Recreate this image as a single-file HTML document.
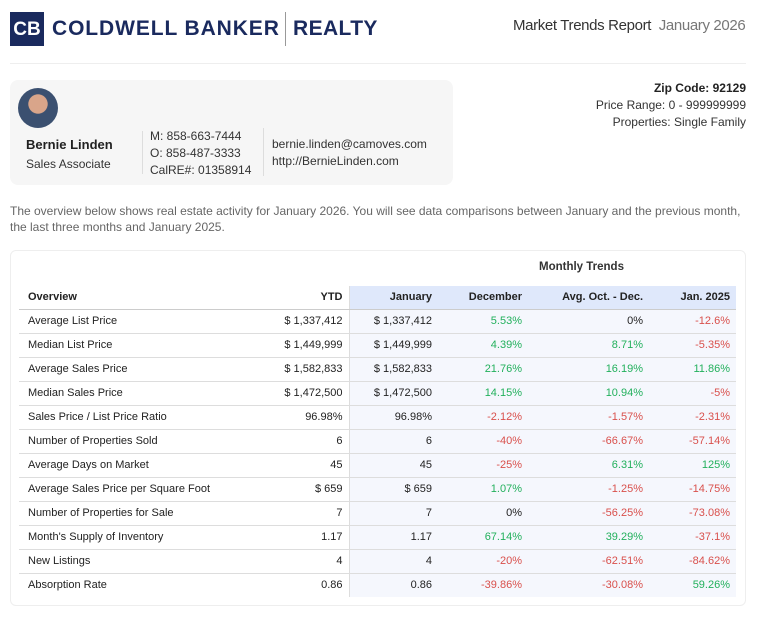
<!DOCTYPE html>
<html><head><meta charset="utf-8"><style>
*{margin:0;padding:0;box-sizing:border-box}
body{width:759px;height:623px;background:#fff;font-family:"Liberation Sans",sans-serif;color:#222;position:relative;overflow:hidden}
.a{position:absolute;white-space:nowrap}
table{border-collapse:collapse;position:absolute;left:19px;top:286px;font-size:11px}
td{height:24px;padding:0 6px;border-bottom:1px solid #ddd;text-align:right}
td:first-child{text-align:left;padding-left:9px}
tr.h td{height:23px;font-weight:bold;font-size:11px;border-bottom:1px solid #ccc;color:#222}
tr.h td.b{background:#dfe8fb}
td.c{background:#f5f7fd}
td.y{border-right:1px solid #ddd}
.g{color:#22b05c}.r{color:#d9504c}
</style></head><body>
<div class="a" style="left:10px;top:12px;width:34px;height:34px;background:#1a2a5e;color:#fff;font-weight:bold;font-size:19px;text-align:center;line-height:34px;border:1px solid #1a2a5e">CB</div>
<div class="a" style="left:52px;top:17px;font-size:21px;font-weight:bold;color:#1a2a5e;letter-spacing:0.9px">COLDWELL BANKER</div>
<div class="a" style="left:285px;top:12px;width:1px;height:34px;background:#999"></div>
<div class="a" style="left:293px;top:17px;font-size:21px;font-weight:bold;color:#1a2a5e;letter-spacing:0.4px">REALTY</div>
<div class="a" style="left:513px;top:17px;font-size:15px;color:#333;letter-spacing:-0.35px">Market Trends Report <span style="color:#777">&nbsp;January 2026</span></div>
<div class="a" style="left:10px;top:63px;width:736px;height:1px;background:#eee"></div>
<div class="a" style="left:10px;top:80px;width:443px;height:105px;background:#f6f6f6;border-radius:8px"></div>
<div class="a" style="left:18px;top:88px;width:40px;height:40px;border-radius:50%;background:radial-gradient(circle at 50% 40%,#d9a58a 0 30%,#3b5070 32% 100%)"></div>
<div class="a" style="left:26px;top:137px;font-size:13px;font-weight:bold">Bernie Linden</div>
<div class="a" style="left:26px;top:157px;font-size:12px;color:#333">Sales Associate</div>
<div class="a" style="left:142px;top:131px;width:1px;height:43px;background:#ddd"></div>
<div class="a" style="left:150px;top:128px;font-size:12px;line-height:17px;color:#333">M: 858-663-7444<br>O: 858-487-3333<br>CalRE#: 01358914</div>
<div class="a" style="left:263px;top:128px;width:1px;height:48px;background:#ddd"></div>
<div class="a" style="left:272px;top:136px;font-size:12px;line-height:17px;color:#333">bernie.linden@camoves.com<br>http://BernieLinden.com</div>
<div class="a" style="right:13px;top:80px;font-size:12px;line-height:17px;text-align:right;color:#333"><b style="color:#222">Zip Code: 92129</b><br>Price Range: 0 - 999999999<br>Properties: Single Family</div>
<div class="a" style="left:10px;top:203px;font-size:12px;line-height:16px;color:#666;white-space:normal;width:740px">The overview below shows real estate activity for January 2026. You will see data comparisons between January and the previous month, the last three months and January 2025.</div>
<div class="a" style="left:10px;top:250px;width:736px;height:356px;border:1px solid #eee;border-radius:6px"></div>
<div class="a" style="left:539px;top:261px;font-size:11.5px;font-weight:bold;color:#333">Monthly Trends</div>
<table>
<colgroup><col style="width:239px"><col style="width:91px"><col style="width:89px"><col style="width:90px"><col style="width:121px"><col style="width:87px"></colgroup>
<tr class="h"><td>Overview</td><td class="y">YTD</td><td class="b">January</td><td class="b">December</td><td class="b">Avg. Oct. - Dec.</td><td class="b">Jan. 2025</td></tr>
<tr><td>Average List Price</td><td class="y">$ 1,337,412</td><td class="c">$ 1,337,412</td><td class="c g">5.53%</td><td class="c">0%</td><td class="c r">-12.6%</td></tr>
<tr><td>Median List Price</td><td class="y">$ 1,449,999</td><td class="c">$ 1,449,999</td><td class="c g">4.39%</td><td class="c g">8.71%</td><td class="c r">-5.35%</td></tr>
<tr><td>Average Sales Price</td><td class="y">$ 1,582,833</td><td class="c">$ 1,582,833</td><td class="c g">21.76%</td><td class="c g">16.19%</td><td class="c g">11.86%</td></tr>
<tr><td>Median Sales Price</td><td class="y">$ 1,472,500</td><td class="c">$ 1,472,500</td><td class="c g">14.15%</td><td class="c g">10.94%</td><td class="c r">-5%</td></tr>
<tr><td>Sales Price / List Price Ratio</td><td class="y">96.98%</td><td class="c">96.98%</td><td class="c r">-2.12%</td><td class="c r">-1.57%</td><td class="c r">-2.31%</td></tr>
<tr><td>Number of Properties Sold</td><td class="y">6</td><td class="c">6</td><td class="c r">-40%</td><td class="c r">-66.67%</td><td class="c r">-57.14%</td></tr>
<tr><td>Average Days on Market</td><td class="y">45</td><td class="c">45</td><td class="c r">-25%</td><td class="c g">6.31%</td><td class="c g">125%</td></tr>
<tr><td>Average Sales Price per Square Foot</td><td class="y">$ 659</td><td class="c">$ 659</td><td class="c g">1.07%</td><td class="c r">-1.25%</td><td class="c r">-14.75%</td></tr>
<tr><td>Number of Properties for Sale</td><td class="y">7</td><td class="c">7</td><td class="c">0%</td><td class="c r">-56.25%</td><td class="c r">-73.08%</td></tr>
<tr><td>Month's Supply of Inventory</td><td class="y">1.17</td><td class="c">1.17</td><td class="c g">67.14%</td><td class="c g">39.29%</td><td class="c r">-37.1%</td></tr>
<tr><td>New Listings</td><td class="y">4</td><td class="c">4</td><td class="c r">-20%</td><td class="c r">-62.51%</td><td class="c r">-84.62%</td></tr>
<tr><td style="border:0">Absorption Rate</td><td class="y" style="border-bottom:0">0.86</td><td class="c" style="border:0">0.86</td><td class="c r" style="border:0">-39.86%</td><td class="c r" style="border:0">-30.08%</td><td class="c g" style="border:0">59.26%</td></tr>
</table>
</body></html>
